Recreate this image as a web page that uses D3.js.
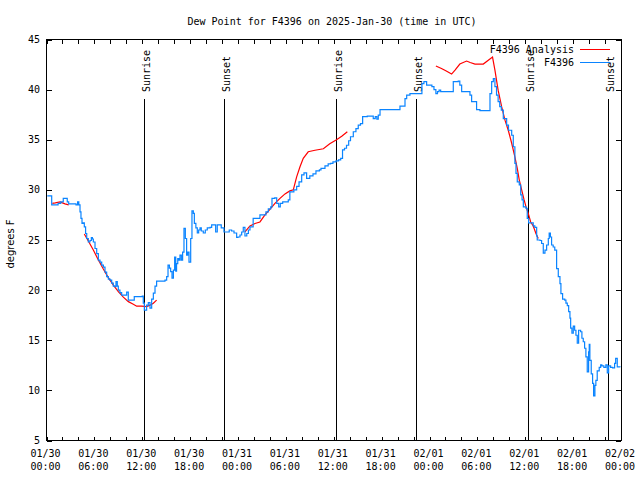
<!DOCTYPE html>
<html><head><meta charset="utf-8">
<script src="https://cdn.jsdelivr.net/npm/d3@7"></script>
<style>body{margin:0;background:#fff}svg{display:block}</style>
</head><body>
<svg id="c" width="640" height="480"></svg>
<script>
// ---- data (hours after 2025-01-30 00:00 UTC, degrees F) ----
const titleText = "Dew Point for F4396 on 2025-Jan-30 (time in UTC)";
const yLabelText = "degrees F";
const yTicks = [5,10,15,20,25,30,35,40,45];
const xTickHours = [0,6,12,18,24,30,36,42,48,54,60,66,72];
const xTickLabels = ["01/30\n00:00","01/30\n06:00","01/30\n12:00","01/30\n18:00","01/31\n00:00","01/31\n06:00","01/31\n12:00","01/31\n18:00","02/01\n00:00","02/01\n06:00","02/01\n12:00","02/01\n18:00","02/02\n00:00"];
const sunHours = [12.26, 22.28, 36.32, 46.34, 60.38, 70.40];
const sunLabels = ["Sunrise","Sunset","Sunrise","Sunset","Sunrise","Sunset"];
const seriesNames = ["F4396 Analysis","F4396"];

const obsHours = [0.1,0.56,0.65,1.28,1.45,1.78,2.1,2.44,2.6,2.78,3.57,3.7,3.9,4.05,4.2,4.32,4.45,4.6,4.74,4.9,5.04,5.24,5.45,5.62,5.75,5.87,6.08,6.29,6.5,6.7,6.92,7.13,7.33,7.54,7.75,7.96,8.17,8.37,8.58,8.71,8.87,9.0,9.2,9.42,9.84,10.05,10.25,10.8,11.0,12.0,12.13,12.26,12.55,12.76,12.97,13.18,13.39,13.6,13.8,14.85,15.06,15.23,15.4,15.56,15.73,15.9,16.06,16.2,16.3,16.45,16.6,16.73,16.9,17.06,17.23,17.4,17.56,17.7,17.86,18.07,18.23,18.4,18.53,18.72,18.9,19.07,19.24,19.4,19.65,19.9,20.15,20.5,20.7,21.0,21.2,21.4,21.7,21.9,22.24,22.57,22.9,23.2,23.5,23.83,24.0,24.25,24.46,24.66,24.87,25.1,25.3,25.5,25.9,26.3,26.75,27.35,27.5,27.8,28.1,28.26,28.6,28.85,29.1,29.3,29.6,29.9,30.3,30.5,31.0,31.35,31.65,31.98,32.27,32.6,33.0,33.4,33.77,34.2,34.4,34.9,35.3,35.6,35.9,36.28,36.6,36.87,37.1,37.35,37.6,37.87,38.1,38.45,38.78,39.07,39.35,39.62,40.2,40.75,40.95,41.2,41.4,41.58,41.8,44.1,44.3,44.7,44.93,45.14,45.55,46.93,47.05,47.3,47.64,48.1,48.3,48.56,48.8,49.0,49.2,49.4,50.77,50.98,51.6,51.8,52.03,52.86,53.07,53.28,53.7,53.9,54.32,55.37,55.58,55.79,56.0,56.2,56.4,56.6,56.8,57.0,57.25,57.67,57.9,58.3,58.5,58.7,58.84,59.0,59.25,59.43,59.6,59.76,60.1,60.25,60.42,60.8,61.0,61.2,61.43,61.5,61.85,62.05,62.26,62.47,62.68,62.89,63.0,63.15,63.3,63.5,63.7,63.93,64.14,64.35,64.47,64.68,64.95,65.1,65.27,65.44,65.6,65.69,65.85,66.02,66.19,66.35,66.52,66.69,66.94,67.1,67.27,67.44,67.6,67.77,67.94,68.02,68.1,68.27,68.44,68.57,68.73,68.85,69.02,69.27,69.45,69.6,69.85,70.1,70.28,70.45,70.7,70.95,71.2,71.33,71.53,71.87];
const obsValues = [29.4,29.4,28.5,28.5,28.65,28.8,29.15,29.15,28.8,28.6,28.6,28.5,28.8,28.5,27.8,27.15,26.65,26.7,26.3,25.65,25.15,24.8,24.95,25.25,25.1,24.8,24.15,23.65,23.0,22.8,22.5,22.3,21.8,21.35,21.1,21.0,20.7,20.4,20.35,20.85,20.4,20.0,19.75,19.5,19.5,19.8,19.0,19.0,19.35,19.4,18.7,18.0,18.5,18.75,18.2,19.1,19.7,20.4,20.9,21.0,21.35,22.5,22.2,21.85,21.2,22.0,23.3,21.9,22.65,23.15,23.0,23.5,23.0,23.8,26.15,25.15,23.5,23.8,22.8,25.15,27.9,27.65,26.65,26.2,25.7,26.0,26.2,25.9,25.7,26.0,26.2,26.25,26.5,26.5,25.8,26.5,26.5,26.2,25.8,25.8,26.0,25.9,25.7,25.25,25.3,25.5,25.8,26.25,25.4,25.65,26.0,26.3,27.15,27.15,27.5,27.5,27.8,28.1,28.3,29.15,29.2,28.65,28.3,28.65,28.8,28.8,29.0,29.8,30.0,30.35,30.8,31.5,31.7,31.15,31.4,31.6,31.9,32.0,32.15,32.4,32.6,32.65,32.8,32.9,33.0,33.15,34.0,34.15,34.45,34.9,35.3,35.8,36.1,36.45,36.6,37.3,37.35,37.35,37.1,37.3,37.05,37.45,38.0,38.0,38.35,38.35,39.1,39.45,39.6,39.6,40.6,40.8,40.45,40.45,40.3,40.0,39.6,39.8,39.95,39.8,39.8,40.8,40.85,40.45,39.8,39.8,39.45,38.8,38.8,38.0,37.9,37.9,39.6,40.8,41.1,40.3,39.45,38.8,38.3,37.95,37.1,36.45,35.95,35.45,34.3,32.65,31.65,30.8,30.5,29.5,29.0,28.3,28.15,27.15,26.7,26.7,26.4,26.25,25.4,25.0,24.95,24.65,23.7,24.0,24.5,25.15,25.7,25.3,24.5,24.3,24.0,22.15,21.35,20.65,19.65,19.1,19.0,18.7,18.45,17.85,17.2,16.2,15.7,16.4,16.0,15.5,14.7,16.0,15.85,15.2,14.85,14.2,13.35,11.85,13.85,14.6,13.0,11.65,10.7,9.45,10.5,11.0,11.95,12.3,12.55,12.45,12.3,12.55,11.75,12.45,12.3,12.25,12.7,13.2,12.35,12.3];

// analysis series; null marks a gap
const anaHours = [0.73,1.1,1.7,2.0,2.32,2.78,3.5,4.74,5.24,5.87,6.5,7.12,7.75,8.38,9.0,9.63,10.26,10.88,11.3,11.92,12.55,12.97,13.39,13.8,20,24.87,25.5,26.13,26.75,27.38,28.0,28.63,29.26,29.89,30.5,30.93,31.35,31.77,32.18,32.8,33.65,34.7,35.5,36.35,37.0,37.7,44,48.8,49.5,50.1,50.77,51.2,51.8,52.65,53.1,53.7,54.74,55.9,56.2,56.6,57.04,57.46,57.87,58.3,58.7,59.0,59.25,59.55,59.84,60.1,60.38,60.68,61.0,61.34,61.63];
const anaValues = [28.65,28.7,28.8,28.7,28.6,28.5,null,25.6,24.9,24.0,23.0,22.1,21.25,20.5,19.85,19.3,18.85,18.6,18.4,18.4,18.35,18.5,18.7,19.0,null,25.8,26.4,26.65,26.8,27.5,28.05,28.65,29.15,29.6,29.9,30.0,31.3,32.3,33.15,33.8,33.95,34.1,34.6,35.0,35.35,35.8,null,42.35,42.1,41.85,41.55,41.95,42.55,42.85,42.7,42.55,42.55,43.25,41.95,39.95,38.3,36.95,35.95,34.65,33.3,32.15,31.0,30.0,29.05,28.3,27.65,26.8,26.4,25.65,25.15];

const colors = ["#ff0000","#0a84ff"];

// ---- drawing ----
const start = Date.UTC(2025,0,30,0,0);
const t = h => new Date(start + h*3600000);
const L=46.5, R=621, T=39.5, B=440.5;
const x = d3.scaleUtc().domain([t(0), t(72)]).range([L,R]);
const y = d3.scaleLinear().domain([5,45]).range([B,T]);
const svg = d3.select("#c");
const mono = "'DejaVu Sans Mono', monospace";

svg.append("text").attr("x",332).attr("y",25).attr("text-anchor","middle")
  .attr("font-family",mono).attr("font-size",10).text(titleText);

// axes
const minorHours = d3.range(0,73,2);
const axB = d3.axisBottom(x).tickValues(minorHours.map(t)).tickSize(-4).tickFormat("");
const axT = d3.axisTop(x).tickValues(minorHours.map(t)).tickSize(-4).tickFormat("");
const axL = d3.axisLeft(y).tickValues(yTicks).tickSize(-5).tickFormat("");
const axR = d3.axisRight(y).tickValues(yTicks).tickSize(-5).tickFormat("");
[[axB,`translate(0,${B})`],[axT,`translate(0,${T})`],[axL,`translate(${L},0)`],[axR,`translate(${R},0)`]].forEach(([a,tr])=>{
  const g = svg.append("g").attr("transform",tr).call(a);
  g.select(".domain").remove();
  g.selectAll("line").attr("stroke","#000").attr("shape-rendering","crispEdges");
});
svg.append("rect").attr("x",L).attr("y",T).attr("width",R-L).attr("height",B-T)
  .attr("fill","none").attr("stroke","#000").attr("shape-rendering","crispEdges");

// y tick labels
svg.append("g").selectAll("text").data(yTicks).join("text")
  .attr("x",40).attr("y",d=>y(d)+3.5).attr("text-anchor","end")
  .attr("font-family",mono).attr("font-size",10).text(d=>d);
// x tick labels
const xl = svg.append("g").selectAll("text").data(xTickHours).join("text")
  .attr("text-anchor","middle").attr("font-family",mono).attr("font-size",10);
xl.each(function(d,i){
  const parts = xTickLabels[i].split("\n");
  const s = d3.select(this);
  parts.forEach((p,j)=> s.append("tspan").attr("x",x(t(d))-1).attr("y",457+j*13).text(p));
});
// y label
svg.append("text").attr("transform","translate(14,244) rotate(-90)").attr("text-anchor","middle")
  .attr("font-family","'DejaVu Sans', sans-serif").attr("font-size",10).text(yLabelText);

// sun lines
const sg = svg.append("g");
sunHours.forEach((h,i)=>{
  const px = Math.round(x(t(h)))+0.5;
  sg.append("line").attr("x1",px).attr("x2",px).attr("y1",99).attr("y2",B)
    .attr("stroke","#000").attr("stroke-width",1).attr("shape-rendering","crispEdges");
  sg.append("text").attr("transform",`translate(${px+5},92) rotate(-90)`)
    .attr("font-family",mono).attr("font-size",10).text(sunLabels[i]);
});

// series
const anaData = anaHours.map((h,i)=>({h, v:anaValues[i]}));
const obsData = obsHours.map((h,i)=>({h, v:obsValues[i]}));
const line = d3.line().defined(d=>d.v!==null).x(d=>x(t(d.h))).y(d=>y(d.v));
const stepLine = d3.line().curve(d3.curveStepAfter).x(d=>x(t(d.h))).y(d=>y(d.v));
svg.append("path").datum(anaData).attr("d",line).attr("fill","none").attr("stroke",colors[0]).attr("stroke-width",1.2);
svg.append("path").datum(obsData).attr("d",stepLine).attr("fill","none").attr("stroke",colors[1]).attr("stroke-width",1.2);

// legend
seriesNames.forEach((n,i)=>{
  const ly = 49 + i*13;
  svg.append("text").attr("x",574).attr("y",ly+3.5).attr("text-anchor","end")
    .attr("font-family",mono).attr("font-size",10).text(n);
  svg.append("line").attr("x1",580).attr("x2",610).attr("y1",ly+0.5).attr("y2",ly+0.5)
    .attr("stroke",colors[i]).attr("stroke-width",1);
});
</script>
</body></html>
